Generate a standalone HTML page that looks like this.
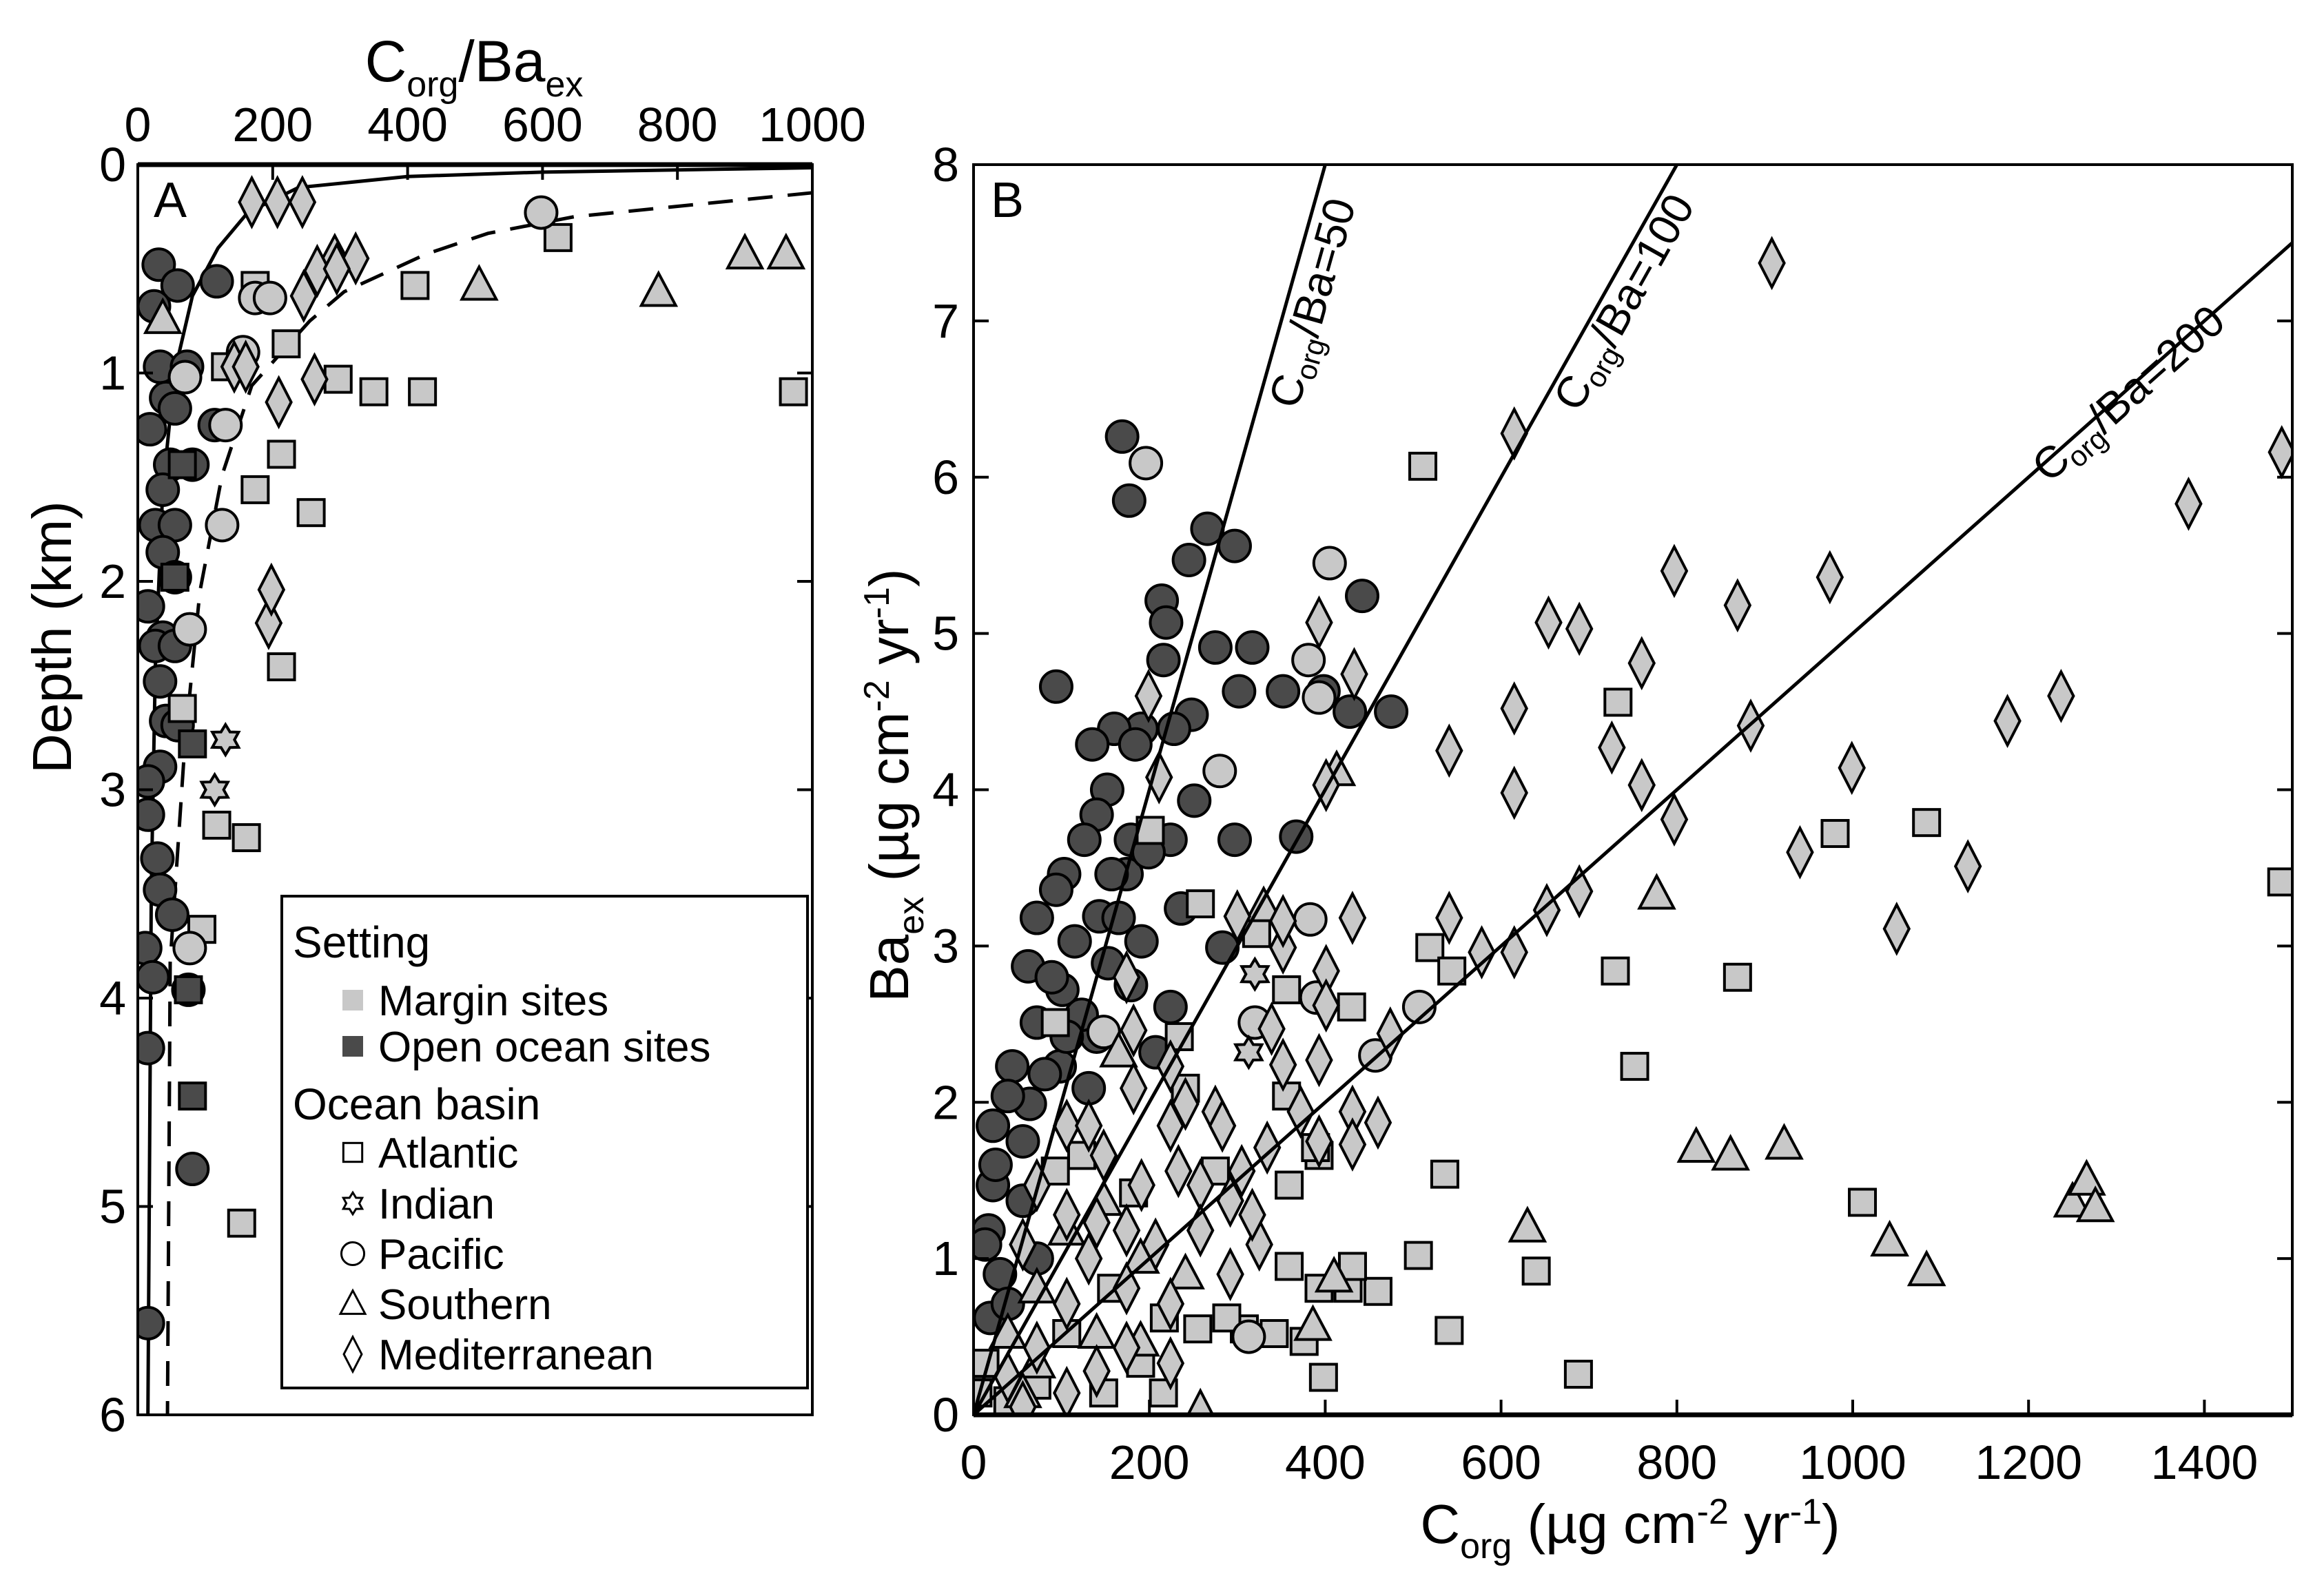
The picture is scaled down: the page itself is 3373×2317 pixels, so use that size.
<!DOCTYPE html>
<html><head><meta charset="utf-8"><style>
html,body{margin:0;padding:0;background:#fff;}
svg{display:block;font-family:"Liberation Sans",sans-serif;}
</style></head>
<body>
<svg id="fig" width="3373" height="2317" viewBox="0 0 3373 2317" xmlns="http://www.w3.org/2000/svg">
<defs>
<clipPath id="clipA"><rect x="200" y="239" width="979" height="1815"/></clipPath>
<clipPath id="clipB"><rect x="1413" y="239" width="1914" height="1815"/></clipPath>
</defs>
<g id="panelA"></g>
<g id="panelB"></g>
</svg>
<script>
// ---------- Panel A data (Corg/Ba_ex vs depth km) ----------
const aTicksX = [0,200,400,600,800,1000];
const aTicksY = [0,1,2,3,4,5,6];
const aSolidCurve = [[1000,0.015],[600,0.036],[400,0.057],[238,0.11],[163,0.23],[119,0.40],[81,0.63],[55,0.99],[37,1.56],[26,2.41],[20,3.48],[15,6]];
const aDashedCurve = [[1000,0.135],[647,0.25],[519,0.33],[427,0.43],[306,0.61],[255,0.75],[169,1.06],[125,1.49],[92,2.05],[70,2.77],[48,3.83],[44,6]];
const aMarginDiamonds = [[169,0.18],[207,0.18],[244,0.18],[323,0.45],[266,0.51],[295,0.5],[246,0.63],[262,1.03],[209,1.14],[194,2.2],[198,2.04],[143,0.97],[160,0.97]];
const aMarginCircles = [[598,0.23],[174,0.64],[196,0.64],[156,0.9],[70,1.02],[125,1.73],[77,2.23],[77,3.76],[130,1.25]];
const aMarginSquares = [[623,0.35],[411,0.58],[972,1.09],[422,1.09],[350,1.09],[297,1.03],[220,0.86],[213,1.39],[174,1.56],[257,1.67],[213,2.41],[161,3.23],[117,3.17],[66,2.61],[95,3.67],[154,5.08],[174,0.58],[130,0.97]];
const aTriangles = [[506,0.58],[772,0.61],[900,0.43],[961,0.43],[292,0.43],[37,0.74]];
const aStars = [[130,2.76],[114,3.0]];
const aDarkCircles = [[31,0.48],[59,0.58],[117,0.56],[24,0.68],[33,0.97],[73,0.97],[42,1.12],[55,1.17],[114,1.25],[18,1.27],[48,1.44],[81,1.44],[37,1.56],[26,1.73],[55,1.73],[37,1.86],[55,1.98],[15,2.12],[37,2.27],[26,2.31],[55,2.31],[33,2.48],[42,2.67],[59,2.69],[33,2.89],[15,2.96],[15,3.12],[29,3.33],[33,3.48],[51,3.6],[11,3.76],[22,3.9],[75,3.96],[15,4.24],[81,4.82],[15,5.56]];
const aDarkSquares = [[81,4.47],[81,2.78],[55,1.98],[75,3.96],[66,1.44]];

// ---------- Panel B data (Corg vs Ba_ex) ----------
const bTicksX = [0,200,400,600,800,1000,1200,1400];
const bTicksY = [0,1,2,3,4,5,6,7,8];
const bRatios = [50,100,200];
const bRatioLabelAt = [[389,7.11],[743,7.11],[1316,6.52]];
const bDarkCircles = [[169,6.26],[177,5.85],[266,5.67],[245,5.47],[297,5.56],[214,5.21],[219,5.07],[216,4.83],[94,4.66],[275,4.91],[317,4.91],[442,5.24],[398,4.63],[352,4.63],[302,4.63],[428,4.5],[475,4.5],[248,4.48],[228,4.39],[191,4.39],[160,4.39],[184,4.29],[135,4.29],[251,3.93],[297,3.68],[367,3.7],[224,3.68],[152,4.0],[140,3.84],[179,3.68],[126,3.68],[103,3.46],[174,3.46],[236,3.24],[283,2.99],[94,3.36],[72,3.18],[143,3.19],[115,3.03],[191,3.03],[153,2.89],[62,2.87],[101,2.72],[179,2.75],[224,2.61],[72,2.51],[140,2.42],[207,2.32],[44,2.23],[98,2.23],[64,1.99],[39,2.04],[22,1.85],[56,1.75],[22,1.47],[56,1.37],[17,1.18],[30,0.9],[19,0.62],[39,0.71],[13,1.09],[72,1.0],[89,2.8],[123,2.56],[131,2.09],[157,3.46],[199,3.6],[106,2.42],[165,3.18],[81,2.18],[10,0.3],[25,1.6]];
const bLightCircles = [[405,5.45],[381,4.83],[393,4.59],[280,4.12],[383,3.17],[390,2.67],[507,2.61],[457,2.3],[320,2.51],[313,0.5],[148,2.45],[196,6.09]];
const bSquares = [[1488,3.41],[1084,3.79],[980,3.72],[869,2.8],[730,2.84],[752,2.23],[733,4.56],[511,6.07],[519,2.99],[544,2.84],[1011,1.36],[536,1.54],[506,1.02],[640,0.92],[541,0.54],[688,0.26],[398,0.24],[426,0.81],[460,0.79],[431,0.95],[359,0.95],[393,0.81],[359,1.47],[393,1.66],[342,0.52],[376,0.47],[308,0.55],[255,0.55],[217,0.62],[288,0.62],[216,0.14],[190,0.33],[322,3.08],[356,2.72],[430,2.61],[356,2.04],[389,1.71],[182,1.42],[275,1.56],[234,2.42],[241,2.09],[123,1.66],[93,1.56],[93,2.51],[157,0.81],[148,0.14],[72,0.19],[39,0.09],[5,0.14],[13,0.33],[106,0.52],[201,3.74],[258,3.27]];
const bTriangles = [[822,1.71],[861,1.66],[922,1.73],[1250,1.36],[1266,1.5],[1276,1.33],[1042,1.11],[1084,0.92],[630,1.2],[777,3.33],[413,4.12],[330,3.25],[386,0.57],[410,0.88],[165,2.32],[72,0.81],[39,0.52],[106,1.18],[148,1.37],[72,0.33],[190,1.0],[241,0.9],[56,0.14],[140,0.52],[190,0.47]];
const bDiamonds = [[908,7.37],[615,6.28],[797,5.4],[654,5.07],[689,5.03],[760,4.81],[869,5.18],[974,5.36],[615,4.52],[884,4.41],[726,4.27],[999,4.14],[1176,4.44],[1237,4.6],[1382,5.83],[1488,6.16],[541,4.25],[615,3.98],[760,4.03],[797,3.81],[940,3.6],[1131,3.51],[1050,3.11],[652,3.23],[689,3.35],[578,2.96],[615,2.96],[541,3.18],[431,3.18],[474,2.44],[460,1.87],[431,1.94],[393,1.75],[431,1.73],[393,2.27],[401,2.84],[401,2.62],[339,2.47],[352,2.24],[352,2.99],[352,3.16],[393,5.07],[433,4.74],[401,4.03],[300,3.19],[372,1.94],[334,1.71],[305,1.56],[275,1.94],[241,1.99],[224,1.85],[199,4.6],[211,4.08],[174,2.8],[182,2.46],[224,2.23],[283,1.85],[258,1.47],[191,1.47],[148,1.66],[106,1.85],[140,1.23],[174,1.18],[207,1.09],[258,1.18],[292,0.9],[325,1.09],[106,1.28],[72,1.47],[56,1.09],[131,1.0],[174,0.81],[224,0.71],[106,0.71],[72,0.43],[140,0.28],[174,0.43],[258,0.0],[224,0.33],[39,0.24],[56,0.05],[106,0.14],[292,1.37],[317,1.28],[182,2.09],[131,1.85],[233,1.56]];
const bStars = [[320,2.82],[313,2.32]];

// ---------- scales ----------
const ax = v => 200 + v * 0.979;
const ay = d => 239 + d * 302.5;
const bx = v => 1413 + v * (1914/1500);
const by = v => 2054 - v * (1815/8);

const NS = "http://www.w3.org/2000/svg";
const LIGHT = "#c8c8c8", DARK = "#4a4a4a";
function mk(tag, attrs, parent){
  const e = document.createElementNS(NS, tag);
  for (const k in attrs) e.setAttribute(k, attrs[k]);
  parent.appendChild(e);
  return e;
}
function marker(shape, x, y, fill, parent, s){
  s = s || 1;
  const st = {fill: fill, stroke: "#000", "stroke-width": 4};
  let e;
  if (shape === "circle") e = mk("circle", Object.assign({cx:x, cy:y, r:23*s}, st), parent);
  else if (shape === "square") e = mk("rect", Object.assign({x:x-19*s, y:y-19*s, width:38*s, height:38*s}, st), parent);
  else if (shape === "diamond") e = mk("polygon", Object.assign({points:`${x},${y-35*s} ${x+18*s},${y} ${x},${y+35*s} ${x-18*s},${y}`}, st), parent);
  else if (shape === "triangle") e = mk("polygon", Object.assign({points:`${x},${y-27*s} ${x+25*s},${y+20*s} ${x-25*s},${y+20*s}`}, st), parent);
  else if (shape === "star") {
    let p = [];
    for (let i=0;i<12;i++){ const r = (i%2===0?22:13)*s; const a = -Math.PI/2 + i*Math.PI/6; p.push((x+r*Math.cos(a)).toFixed(1)+","+(y+r*Math.sin(a)).toFixed(1)); }
    e = mk("polygon", Object.assign({points:p.join(" ")}, st), parent);
  }
  return e;
}
function text(str, x, y, size, anchor, parent){
  const t = mk("text", {x:x, y:y, "font-size":size, "text-anchor":anchor||"middle", fill:"#000"}, parent);
  t.textContent = str;
  return t;
}

// ================= PANEL A =================
const A = document.getElementById("panelA");
const aPlot = mk("g", {"clip-path":"url(#clipA)"}, A);



const solidA = mk("polyline", {points: aSolidCurve.map(p=>ax(p[0])+","+ay(p[1])).join(" "), fill:"none", stroke:"#000", "stroke-width":5}, aPlot);


const dashA = mk("polyline", {points: aDashedCurve.map(p=>ax(p[0])+","+ay(p[1])).join(" "), fill:"none", stroke:"#000", "stroke-width":5, "stroke-dasharray":"36 22"}, aPlot);



function drawA(arr, shape, fill, name){
  arr.forEach(p=>{
    const m = marker(shape, ax(p[0]), ay(p[1]), fill, aPlot);
    
    
  });
}
drawA(aDarkCircles, "circle", DARK, "open-ocean-pacific-point");
drawA(aDarkSquares, "square", DARK, "open-ocean-atlantic-point");
drawA(aMarginSquares, "square", LIGHT, "margin-atlantic-point");
drawA(aMarginCircles, "circle", LIGHT, "margin-pacific-point");
drawA(aTriangles, "triangle", LIGHT, "southern-point");
drawA(aMarginDiamonds, "diamond", LIGHT, "mediterranean-point");
drawA(aStars, "star", LIGHT, "indian-point");

const frameA = mk("rect", {x:200, y:239, width:979, height:1815, fill:"none", stroke:"#000", "stroke-width":4}, A);


mk("line", {x1:200, y1:239, x2:1179, y2:239, stroke:"#000", "stroke-width":7}, A);

aTicksX.forEach(v=>{
  const l = mk("line", {x1:ax(v), y1:239, x2:ax(v), y2:261, stroke:"#000", "stroke-width":4}, A);
  
  
  const t = text(String(v), ax(v), 205, 70, "middle", A);
  
  
});
aTicksY.forEach(v=>{
  const l = mk("line", {x1:200, y1:ay(v), x2:222, y2:ay(v), stroke:"#000", "stroke-width":4}, A);
  
  
  const r = mk("line", {x1:1157, y1:ay(v), x2:1179, y2:ay(v), stroke:"#000", "stroke-width":4}, A);
  
  
  const t = text(String(v), 183, ay(v)+24, 70, "end", A);
  
  
});

const aTitle = mk("text", {x:688, y:118, "font-size":84, "text-anchor":"middle"}, A);
aTitle.innerHTML = 'C<tspan font-size="52" dy="22">org</tspan><tspan dy="-22">/Ba</tspan><tspan font-size="52" dy="22">ex</tspan>';



const depthTitle = mk("text", {x:0, y:0, "font-size":80, "text-anchor":"middle", transform:"translate(103,925) rotate(-90)"}, A);
depthTitle.textContent = "Depth (km)";



const letA = text("A", 247, 315, 72, "middle", A);



// Legend
const L = mk("g", {}, A);


mk("rect", {x:409, y:1301, width:763, height:714, fill:"#fff", stroke:"#000", "stroke-width":4}, L);
const lh1 = text("Setting", 425, 1390, 64, "start", L);


const lh2 = text("Ocean basin", 425, 1625, 64, "start", L);


const legItems = [
  ["Margin sites", 1452, "sq-light"],
  ["Open ocean sites", 1519, "sq-dark"],
  ["Atlantic", 1673, "square"],
  ["Indian", 1747, "star"],
  ["Pacific", 1820, "circle"],
  ["Southern", 1893, "triangle"],
  ["Mediterranean", 1966, "diamond"]
];
legItems.forEach(it=>{
  const g = mk("g", {}, L);
  
  
  if (it[2]==="sq-light") mk("rect", {x:497, y:it[1]-15, width:30, height:30, fill:LIGHT}, g);
  else if (it[2]==="sq-dark") mk("rect", {x:497, y:it[1]-15, width:30, height:30, fill:DARK}, g);
  else { const m = marker(it[2], 512, it[1], "#fff", g, 0.72); m.setAttribute("stroke-width", 3); }
  text(it[0], 549, it[1]+22, 62, "start", g);
});

// ================= PANEL B =================
const B = document.getElementById("panelB");
const bPlot = mk("g", {"clip-path":"url(#clipB)"}, B);



function drawB(arr, shape, fill, name){
  arr.forEach(p=>{
    const m = marker(shape, bx(p[0]), by(p[1]), fill, bPlot);
    
    
  });
}
drawB(bDarkCircles, "circle", DARK, "open-ocean-pacific-point");
drawB(bSquares, "square", LIGHT, "atlantic-point");
drawB(bLightCircles, "circle", LIGHT, "margin-pacific-point");
drawB(bTriangles, "triangle", LIGHT, "southern-point");
drawB(bDiamonds, "diamond", LIGHT, "mediterranean-point");
drawB(bStars, "star", LIGHT, "indian-point");

bRatios.forEach((r,i)=>{
  const l = mk("line", {x1:bx(0), y1:by(0), x2:bx(8*r), y2:by(8), stroke:"#000", "stroke-width":5}, bPlot);
  
  
  const ang = -Math.atan2(by(0)-by(8), bx(8*r)-bx(0)) * 180/Math.PI;
  const c = bRatioLabelAt[i];
  const t = mk("text", {x:0, y:0, "font-size":64, "text-anchor":"middle", "dominant-baseline":"middle", transform:`translate(${bx(c[0])},${by(c[1])}) rotate(${ang})`}, B);
  t.innerHTML = 'C<tspan font-size="42" dy="18">org</tspan><tspan dy="-18">/Ba=' + r + '</tspan>';
  
  
});

const frameB = mk("rect", {x:1413, y:239, width:1914, height:1815, fill:"none", stroke:"#000", "stroke-width":4}, B);


mk("line", {x1:1413, y1:2054, x2:3327, y2:2054, stroke:"#000", "stroke-width":7}, B);

bTicksX.forEach(v=>{
  const l = mk("line", {x1:bx(v), y1:2054, x2:bx(v), y2:2032, stroke:"#000", "stroke-width":4}, B);
  
  
  const t = text(String(v), bx(v), 2147, 70, "middle", B);
  
  
});
bTicksY.forEach(v=>{
  const l = mk("line", {x1:1413, y1:by(v), x2:1435, y2:by(v), stroke:"#000", "stroke-width":4}, B);
  
  
  const r = mk("line", {x1:3305, y1:by(v), x2:3327, y2:by(v), stroke:"#000", "stroke-width":4}, B);
  
  
  const t = text(String(v), 1392, by(v)+24, 70, "end", B);
  
  
});

const bxTitle = mk("text", {x:2366, y:2240, "font-size":80, "text-anchor":"middle"}, B);
bxTitle.innerHTML = 'C<tspan font-size="52" dy="22">org</tspan><tspan dy="-22"> (µg cm</tspan><tspan font-size="52" dy="-28">-2</tspan><tspan dy="28"> yr</tspan><tspan font-size="52" dy="-28">-1</tspan><tspan dy="28">)</tspan>';



const byTitle = mk("text", {x:0, y:0, "font-size":80, "text-anchor":"middle", transform:"translate(1318,1140) rotate(-90)"}, B);
byTitle.innerHTML = 'Ba<tspan font-size="52" dy="22">ex</tspan><tspan dy="-22"> (µg cm</tspan><tspan font-size="52" dy="-28">-2</tspan><tspan dy="28"> yr</tspan><tspan font-size="52" dy="-28">-1</tspan><tspan dy="28">)</tspan>';



const letB = text("B", 1462, 315, 72, "middle", B);


</script>
</body></html>
